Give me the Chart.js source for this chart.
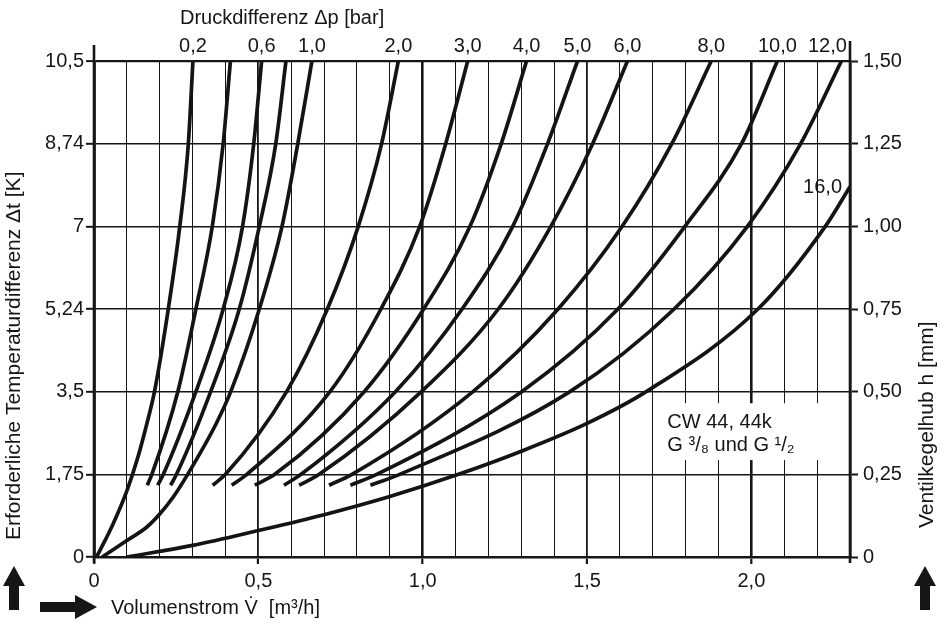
<!DOCTYPE html>
<html><head><meta charset="utf-8">
<script src="https://cdn.jsdelivr.net/npm/chart.js@4/dist/chart.umd.min.js"></script>
<style>html,body{margin:0;padding:0;background:#fff;}canvas{display:block;}</style>
</head><body>
<canvas id="c" width="946" height="626"></canvas>
<script>
// ---- data (x = Volumenstrom m3/h, y = Ventilkegelhub h mm) ----
const hLevels = [0.217, 0.25, 0.5, 0.75, 1.0, 1.25, 1.5];
const h_dp02 = [0, 0.1, 0.2, 0.3, 0.4, 0.5, 0.75, 1.0, 1.25, 1.5];
const x_dp02 = [0.008, 0.058, 0.1, 0.133, 0.16, 0.184, 0.226, 0.261, 0.287, 0.301];
const x_dp04 = [0.162, 0.176, 0.255, 0.31, 0.36, 0.393, 0.415];
const x_dp06 = [0.194, 0.211, 0.31, 0.393, 0.452, 0.486, 0.51];
const x_dp08 = [0.233, 0.251, 0.355, 0.442, 0.503, 0.553, 0.584];
const h_dp10 = [0, 0.05, 0.09, 0.13, 0.18, 0.25, 0.4, 0.5, 0.75, 1.0, 1.25, 1.5];
const x_dp10 = [0.025, 0.1, 0.16, 0.2, 0.24, 0.285, 0.37, 0.416, 0.503, 0.572, 0.620, 0.663];
const x_dp20 = [0.361, 0.40, 0.586, 0.71, 0.804, 0.875, 0.926];
const x_dp30 = [0.419, 0.465, 0.718, 0.873, 0.991, 1.07, 1.137];
const x_dp40 = [0.489, 0.55, 0.822, 1.003, 1.144, 1.239, 1.316];
const x_dp50 = [0.578, 0.63, 0.917, 1.12, 1.274, 1.38, 1.471];
const x_dp60 = [0.624, 0.685, 0.996, 1.23, 1.39, 1.517, 1.623];
const x_dp80 = [0.715, 0.785, 1.153, 1.412, 1.607, 1.758, 1.878];
const x_dp100 = [0.780, 0.86, 1.301, 1.594, 1.798, 1.97, 2.079];
const x_dp120 = [0.841, 0.93, 1.448, 1.765, 1.988, 2.15, 2.274];
const h_dp160 = [0, 0.035, 0.08, 0.128, 0.183, 0.247, 0.32, 0.404, 0.5, 0.75, 1.0, 1.12];
const x_dp160 = [0.1, 0.3, 0.5, 0.7, 0.9, 1.1, 1.3, 1.5, 1.68, 2.02, 2.225, 2.3];

const dpLabels = ['0,2', '', '0,6', '', '1,0', '2,0', '3,0', '4,0', '5,0', '6,0', '8,0', '10,0', '12,0', '16,0'];
const xTickValues = [0, 0.5, 1.0, 1.5, 2.0];
const xTickLabels = ['0', '0,5', '1,0', '1,5', '2,0'];
const leftTickLabels = ['0', '1,75', '3,5', '5,24', '7', '8,74', '10,5'];
const rightTickLabels = ['0', '0,25', '0,50', '0,75', '1,00', '1,25', '1,50'];

const xTitle = 'Volumenstrom V\u0307  [m\u00B3/h]';
const topTitle = 'Druckdifferenz \u0394p [bar]';
const leftTitle = 'Erforderliche Temperaturdifferenz \u0394t [K]';
const rightTitle = 'Ventilkegelhub h [mm]';
const boxLines = ['CW 44, 44k', 'G \u00B3/\u2088 und G \u00B9/\u2082'];

// ---- build datasets ----
const curveX = [x_dp02, x_dp04, x_dp06, x_dp08, x_dp10, x_dp20, x_dp30, x_dp40, x_dp50, x_dp60, x_dp80, x_dp100, x_dp120, x_dp160];
const curveH = [h_dp02, hLevels, hLevels, hLevels, h_dp10, hLevels, hLevels, hLevels, hLevels, hLevels, hLevels, hLevels, hLevels, h_dp160];
const datasets = curveX.map((xs, i) => ({
  label: dpLabels[i] || ('c' + i),
  data: xs.map((x, k) => ({ x: x, y: curveH[i][k] })),
  borderColor: '#141414',
  borderWidth: 3.7,
  pointRadius: 0,
  fill: false,
  cubicInterpolationMode: 'monotone'
}));

const FONT = '"Liberation Sans", Arial, Helvetica, sans-serif';
const INK = '#161616';

function isMajor(v, step) { return Math.abs(v / step - Math.round(v / step)) < 1e-6; }

const decor = {
  id: 'decor',
  beforeDatasetsDraw(chart) {
    const { ctx, scales: { x, y } } = chart;
    const bx0 = x.getPixelForValue(1.72), bx1 = x.getPixelForValue(2.275);
    const by0 = y.getPixelForValue(0.465), by1 = y.getPixelForValue(0.293);
    ctx.save();
    ctx.fillStyle = '#fff';
    ctx.fillRect(bx0, by0, bx1 - bx0, by1 - by0);
    ctx.fillStyle = INK;
    ctx.font = '20px ' + FONT;
    ctx.textAlign = 'left';
    ctx.textBaseline = 'alphabetic';
    ctx.fillText(boxLines[0], bx0 + 8, by0 + 25);
    ctx.fillText(boxLines[1], bx0 + 8, by0 + 48);
    ctx.restore();
  },
  afterDraw(chart) {
    const { ctx, chartArea: ca, scales: { x, y } } = chart;
    ctx.save();
    ctx.strokeStyle = INK;
    ctx.lineWidth = 2.6;
    ctx.beginPath();
    ctx.moveTo(ca.left, ca.top - 16); ctx.lineTo(ca.left, ca.bottom + 6);
    ctx.moveTo(ca.right, ca.top - 20); ctx.lineTo(ca.right, ca.bottom + 6);
    ctx.stroke();
    ctx.fillStyle = INK;
    ctx.font = '20px ' + FONT;
    ctx.textAlign = 'left'; ctx.textBaseline = 'middle';
    ctx.fillText(topTitle, 180, 18);
    ctx.textAlign = 'center';
    curveX.forEach((xs, i) => {
      const t = dpLabels[i];
      if (!t) return;
      const lx = xs[xs.length - 1], lh = curveH[i][curveH[i].length - 1];
      const px = x.getPixelForValue(lx), py = y.getPixelForValue(lh);
      if (t === '16,0') {
        ctx.textAlign = 'right';
        ctx.fillText(t, px - 8, py + 1);
        ctx.textAlign = 'center';
      } else if (t === '12,0') {
        ctx.fillText(t, px - 14, 46);
      } else {
        ctx.fillText(t, px, 46);
      }
    });
    ctx.textAlign = 'left';
    ctx.fillText(xTitle, 111, 608);
    ctx.font = '21px ' + FONT;
    ctx.save();
    ctx.translate(14, 540);
    ctx.rotate(-Math.PI / 2);
    ctx.textAlign = 'left'; ctx.textBaseline = 'middle';
    ctx.fillText(leftTitle, 0, 0);
    ctx.restore();
    ctx.save();
    ctx.translate(927, 528);
    ctx.rotate(-Math.PI / 2);
    ctx.textAlign = 'left'; ctx.textBaseline = 'middle';
    ctx.fillText(rightTitle, 0, 0);
    ctx.restore();
    function upArrow(cx, top, bottom) {
      ctx.beginPath();
      ctx.moveTo(cx, top);
      ctx.lineTo(cx + 11, top + 20);
      ctx.lineTo(cx + 5, top + 20);
      ctx.lineTo(cx + 5, bottom);
      ctx.lineTo(cx - 5, bottom);
      ctx.lineTo(cx - 5, top + 20);
      ctx.lineTo(cx - 11, top + 20);
      ctx.closePath();
      ctx.fill();
    }
    upArrow(14, 566, 610);
    upArrow(925, 566, 610);
    ctx.beginPath();
    ctx.moveTo(97, 607);
    ctx.lineTo(75, 595);
    ctx.lineTo(75, 602);
    ctx.lineTo(40, 602);
    ctx.lineTo(40, 612);
    ctx.lineTo(75, 612);
    ctx.lineTo(75, 619);
    ctx.closePath();
    ctx.fill();
    ctx.restore();
  }
};

new Chart(document.getElementById('c'), {
  type: 'line',
  data: { datasets: datasets },
  options: {
    responsive: false,
    animation: false,
    devicePixelRatio: 1,
    layout: { padding: { top: 61, left: 0, right: 0, bottom: 0 } },
    plugins: { legend: { display: false }, tooltip: { enabled: false } },
    scales: {
      x: {
        type: 'linear', min: 0, max: 2.3, position: 'bottom',
        afterFit(s) { s.height = 69; },
        ticks: {
          stepSize: 0.1, autoSkip: false, maxRotation: 0, padding: 5,
          color: INK, font: { family: FONT, size: 20 },
          callback: (v) => {
            const k = xTickValues.findIndex(t => Math.abs(t - v) < 1e-6);
            return k >= 0 ? xTickLabels[k] : '';
          }
        },
        grid: {
          color: INK,
          lineWidth: (c) => {
            const v = c.tick ? c.tick.value : 0;
            if (isMajor(v, 1)) return 2.6;
            if (isMajor(v, 0.5)) return 1.8;
            return 1.0;
          },
          tickLength: 7,
          tickWidth: 2.2,
          tickColor: (c) => (c.tick && isMajor(c.tick.value, 0.5)) ? INK : 'rgba(0,0,0,0)'
        },
        border: { display: true, color: INK, width: 2.6 }
      },
      y: {
        type: 'linear', min: 0, max: 1.5, position: 'left',
        afterFit(s) { s.width = 94; },
        ticks: {
          stepSize: 0.25, padding: 2, color: INK, font: { family: FONT, size: 20 },
          callback: (v) => leftTickLabels[Math.round(v / 0.25)]
        },
        grid: { color: INK, lineWidth: (c) => (c.tick && c.tick.value === 1.5 ? 2.2 : 1.6), tickLength: 8, tickWidth: 2, tickColor: INK },
        border: { display: true, color: INK, width: 2.6 }
      },
      y2: {
        type: 'linear', min: 0, max: 1.5, position: 'right',
        afterFit(s) { s.width = 96; },
        ticks: {
          stepSize: 0.25, padding: 5, color: INK, font: { family: FONT, size: 20 },
          callback: (v) => rightTickLabels[Math.round(v / 0.25)]
        },
        grid: { drawOnChartArea: false, tickLength: 8, tickWidth: 2, tickColor: INK },
        border: { display: true, color: INK, width: 2.6 }
      }
    }
  },
  plugins: [decor]
});
</script>
</body></html>
